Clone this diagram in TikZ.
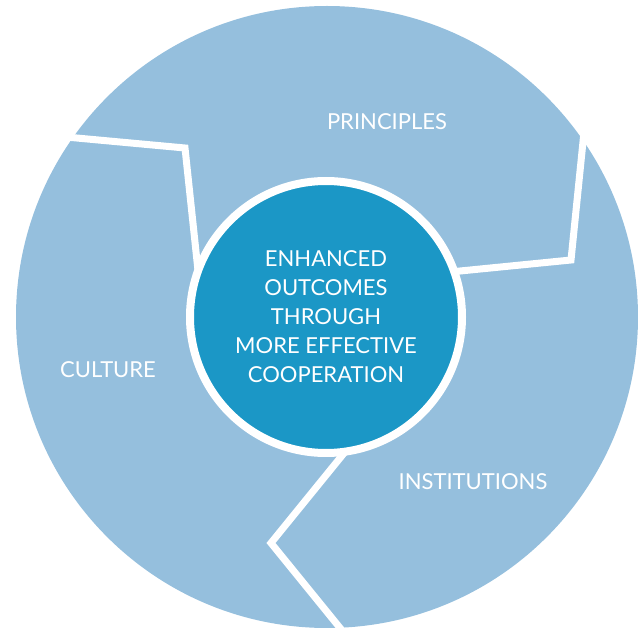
\documentclass[tikz,border=0pt]{standalone}
\usepackage{fontspec}
\setmainfont{Lato}
\definecolor{ringblue}{RGB}{149,191,221}
\definecolor{hubblue}{RGB}{27,151,198}
\tikzset{
  labeltext/.style={text=white, inner sep=0pt, font=\fontsize{22}{29}\selectfont},
  divider/.style={draw=white, line width=7pt, line join=miter},
}
\begin{document}
\begin{tikzpicture}[x=1pt,y=-1pt]
  \useasboundingbox (0,0) rectangle (638,628);

  % outer ring
  \fill[ringblue] (327,317) circle[radius=311];

  % dividers between the three parts
  \coordinate (ul0) at (55,136);
  \coordinate (ul1) at (185,148);
  \coordinate (ul2) at (199,280);
  \coordinate (ur0) at (585,122);
  \coordinate (ur1) at (571,260);
  \coordinate (ur2) at (440,273);
  \coordinate (bt0) at (349,447);
  \coordinate (bt1) at (271,543);
  \coordinate (bt2) at (349,639);
  \draw[divider] (ul0) -- (ul1) -- (ul2);
  \draw[divider] (ur0) -- (ur1) -- (ur2);
  \draw[divider] (bt0) -- (bt1) -- (bt2);

  % centre
  \node[circle, fill=hubblue, draw=white, line width=8pt, minimum size=272pt,
        inner sep=0pt, align=center, labeltext] (hub) at (326,317)
    {ENHANCED\\OUTCOMES\\THROUGH\\MORE EFFECTIVE\\COOPERATION};

  % labels
  \node[labeltext] (principles) at (387,122) {PRINCIPLES};
  \node[labeltext] (culture) at (108,370) {CULTURE};
  \node[labeltext] (institutions) at (473,482) {INSTITUTIONS};
\end{tikzpicture}
\end{document}
